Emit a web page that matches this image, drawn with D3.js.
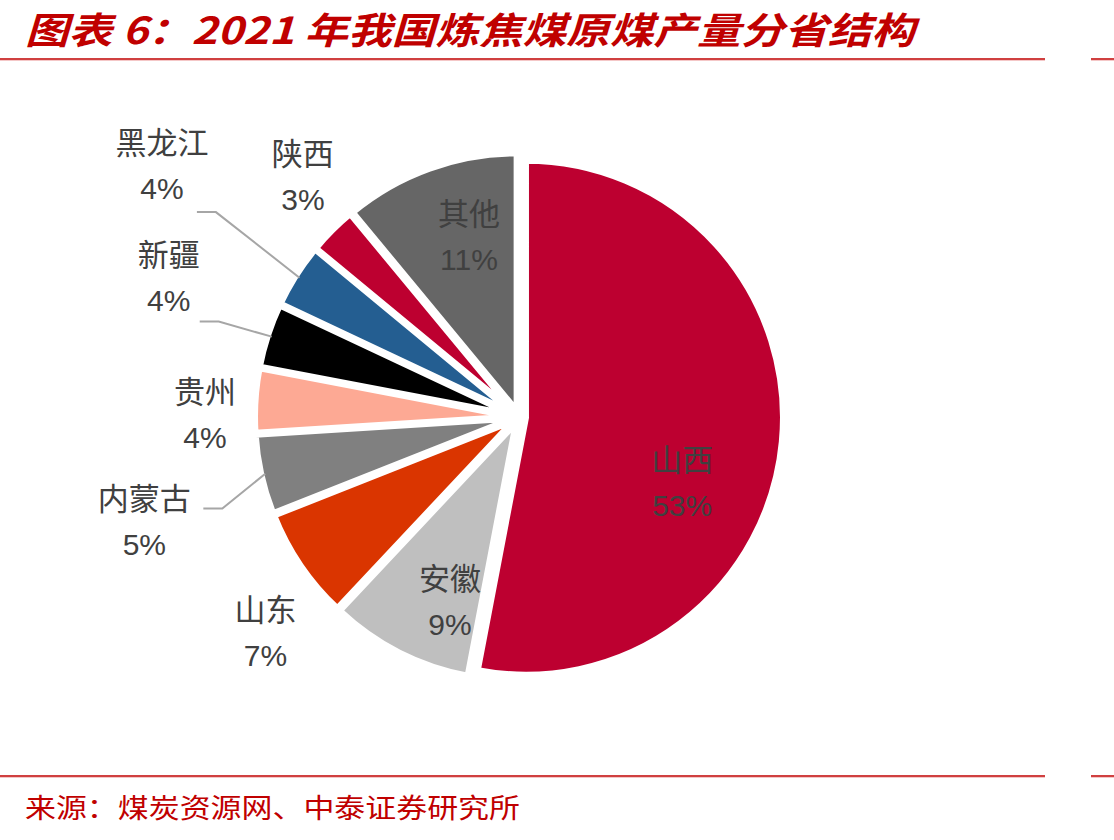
<!DOCTYPE html>
<html>
<head>
<meta charset="utf-8">
<script src="https://cdn.jsdelivr.net/npm/d3@7"></script>
<style>
  body { margin: 0; background: #fff; }
  svg text { font-family: "Liberation Sans", Arial, "Noto Sans CJK SC", sans-serif; }
</style>
</head>
<body>
<div id="chart"></div>
<script>
// 2021 coking coal raw coal output by province (%)
const provinces = ['山西', '安徽', '山东', '内蒙古', '贵州', '新疆', '黑龙江', '陕西', '其他'];
const shares = [53, 9, 7, 5, 4, 4, 4, 3, 11];
const sliceColors = ['#BD0030', '#BFBFBF', '#DA3500', '#808080', '#FDA994', '#000000', '#245E91', '#BD0030', '#666666'];

// label layout: [angle in degrees clockwise from 12 o'clock, distance from pie centre]
const labelPolar = [[112, 176], [200.5, 197], [229.6, 333], [254.4, 389], [270.5, 314],
                    [291.7, 377], [305.2, 437], [318, 323], [344.5, 187]];
// leader line start, relative to the label centre (only for some labels)
const leaderStart = {3: [59, -13], 5: [31, 44], 6: [35, 47]};

const width = 1114;
const height = 840;
const cx = 519, cy = 417;
const radius = 257;
const explode = 7;
const gap = 6;

const svg = d3.select('#chart')
  .append('svg')
  .attr('width', width)
  .attr('height', height);

// title + rules
svg.append('text')
  .attr('x', 25)
  .attr('y', 44)
  .attr('fill', '#C00000')
  .style('font-family', '"Noto Sans CJK SC", sans-serif')
  .style('font-size', '37px')
  .style('font-weight', 'bold')
  .style('font-style', 'italic')
  .attr('textLength', 890)
  .attr('lengthAdjust', 'spacingAndGlyphs')
  .text('图表 6：2021 年我国炼焦煤原煤产量分省结构');

[59, 776].forEach(function(y) {
  [[0, 1045], [1091, 1114]].forEach(function(seg) {
    svg.append('line')
      .attr('x1', seg[0]).attr('x2', seg[1])
      .attr('y1', y).attr('y2', y)
      .attr('stroke', '#C00000').attr('stroke-width', 1.5);
    svg.append('line')
      .attr('x1', seg[0]).attr('x2', seg[1])
      .attr('y1', y + 1.5).attr('y2', y + 1.5)
      .attr('stroke', '#F4C7C7').attr('stroke-width', 1);
  });
});

svg.append('text')
  .attr('x', 25)
  .attr('y', 818)
  .attr('fill', '#C00000')
  .style('font-family', '"Noto Sans CJK SC", sans-serif')
  .style('font-size', '27px')
  .attr('textLength', 495)
  .attr('lengthAdjust', 'spacingAndGlyphs')
  .text('来源：煤炭资源网、中泰证券研究所');

// pie
const pie = d3.pie().sort(null).value(function(d) { return d; });
const arc = d3.arc().innerRadius(0).outerRadius(radius);
const arcs = pie(shares);

const g = svg.append('g').attr('transform', 'translate(' + cx + ',' + cy + ')');

g.selectAll('path')
  .data(arcs)
  .enter()
  .append('path')
  .attr('d', arc)
  .attr('fill', function(d, i) { return sliceColors[i]; })
  .attr('stroke', '#fff')
  .attr('stroke-width', gap)
  .attr('stroke-linejoin', 'miter')
  .attr('transform', function(d) {
    const mid = (d.startAngle + d.endAngle) / 2;
    return 'translate(' + (explode * Math.sin(mid)) + ',' + (-explode * Math.cos(mid)) + ')';
  });

function polar(deg, r) {
  const a = deg * Math.PI / 180;
  return [r * Math.sin(a), -r * Math.cos(a)];
}

// leader lines
Object.keys(leaderStart).forEach(function(k) {
  const i = +k;
  const lp = polar(labelPolar[i][0], labelPolar[i][1]);
  const s = [lp[0] + leaderStart[i][0], lp[1] + leaderStart[i][1]];
  const kink = [s[0] + 19, s[1]];
  const mid = (arcs[i].startAngle + arcs[i].endAngle) / 2 * 180 / Math.PI;
  const e = polar(mid, radius + explode - gap / 2 - 1);
  g.append('path')
    .attr('d', d3.line()([s, kink, e]))
    .attr('fill', 'none')
    .attr('stroke', '#A6A6A6')
    .attr('stroke-width', 2);
});

// labels
const labels = g.selectAll('g.lbl')
  .data(arcs)
  .enter()
  .append('g')
  .attr('class', 'lbl')
  .attr('transform', function(d, i) {
    const p = polar(labelPolar[i][0], labelPolar[i][1]);
    return 'translate(' + p[0] + ',' + p[1] + ')';
  });

labels.append('text')
  .attr('text-anchor', 'middle')
  .attr('dominant-baseline', 'central')
  .attr('y', -22)
  .attr('fill', '#404040')
  .style('font-size', '31px')
  .text(function(d, i) { return provinces[i]; });

labels.append('text')
  .attr('text-anchor', 'middle')
  .attr('dominant-baseline', 'central')
  .attr('y', 23)
  .attr('fill', '#404040')
  .style('font-size', '30px')
  .text(function(d) { return d.data + '%'; });
</script>
</body>
</html>
